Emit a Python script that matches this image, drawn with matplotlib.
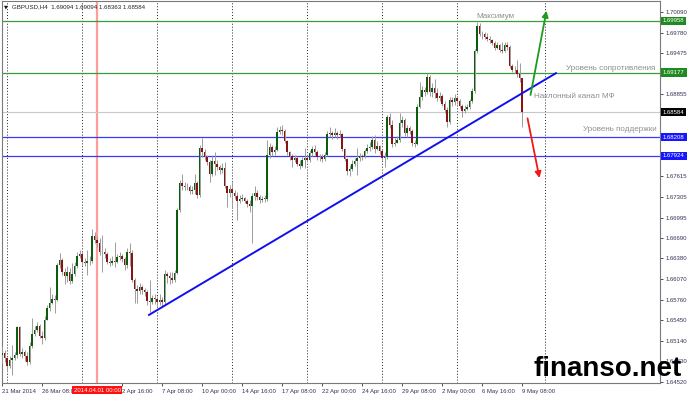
import matplotlib
matplotlib.use("Agg")
import matplotlib.pyplot as plt
import matplotlib.transforms as mtransforms
import numpy as np

plt.rcParams['font.family'] = ['Liberation Sans', 'DejaVu Sans']

# GBPUSD H4, bar 0 = 21 Mar 2014 16:00 ... bar 208 = 9 May 2014 08:00
open0 = 1.6492
close = [
    1.6496, 1.6488, 1.6476, 1.6485, 1.6488, 1.6493, 1.6535, 1.6494, 1.6497, 1.6491,
    1.6482, 1.6506, 1.6524, 1.6530, 1.6536, 1.6521, 1.6518, 1.6545, 1.6564, 1.6571,
    1.6577, 1.6576, 1.6628, 1.6636, 1.6618, 1.6612, 1.6618, 1.6604, 1.6615, 1.6627,
    1.6642, 1.6645, 1.6633, 1.6631, 1.6634, 1.6634, 1.6672, 1.6666, 1.6661, 1.6648,
    1.6648, 1.6645, 1.6633, 1.6631, 1.6634, 1.6633, 1.6640, 1.6642, 1.6637, 1.6628,
    1.6648, 1.6646, 1.6606, 1.6592, 1.6589, 1.6595, 1.6591, 1.6588, 1.6574, 1.6573,
    1.6579, 1.6577, 1.6573, 1.6576, 1.6573, 1.6615, 1.6612, 1.6609, 1.6606, 1.6616,
    1.6711, 1.6752, 1.6747, 1.6746, 1.6746, 1.6740, 1.6741, 1.6752, 1.6734, 1.6804,
    1.6798, 1.6791, 1.6783, 1.6765, 1.6785, 1.6780, 1.6776, 1.6771, 1.6774, 1.6747,
    1.6737, 1.6743, 1.6737, 1.6732, 1.6725, 1.6728, 1.6729, 1.6725, 1.6720, 1.6717,
    1.6732, 1.6737, 1.6731, 1.6726, 1.6728, 1.6728, 1.6794, 1.6806, 1.6798, 1.6801,
    1.6828, 1.6831, 1.6830, 1.6815, 1.6798, 1.6792, 1.6786, 1.6789, 1.6780, 1.6777,
    1.6786, 1.6789, 1.6786, 1.6797, 1.6803, 1.6798, 1.6791, 1.6791, 1.6788, 1.6794,
    1.6825, 1.6827, 1.6824, 1.6827, 1.6824, 1.6825, 1.6803, 1.6788, 1.6770, 1.6773,
    1.6780, 1.6785, 1.6789, 1.6792, 1.6791, 1.6800, 1.6804, 1.6806, 1.6816, 1.6803,
    1.6807, 1.6800, 1.6789, 1.6791, 1.6851, 1.6839, 1.6810, 1.6812, 1.6816, 1.6842,
    1.6847, 1.6827, 1.6834, 1.6830, 1.6812, 1.6810, 1.6866, 1.6881, 1.6892, 1.6889,
    1.6911, 1.6889, 1.6895, 1.6887, 1.6880, 1.6883, 1.6871, 1.6862, 1.6844, 1.6877,
    1.6874, 1.6880, 1.6875, 1.6868, 1.6860, 1.6863, 1.6866, 1.6875, 1.6890, 1.6950,
    1.6988, 1.6976, 1.6976, 1.6971, 1.6969, 1.6967, 1.6962, 1.6955, 1.6959, 1.6952,
    1.6950, 1.6959, 1.6956, 1.6928, 1.6922, 1.6922, 1.6916, 1.69094, 1.68584,
]
high = [
    1.6506, 1.6500, 1.6488, 1.6491, 1.6508, 1.6497, 1.6536, 1.6536, 1.6503, 1.6500,
    1.6497, 1.6512, 1.6548, 1.6536, 1.6542, 1.6539, 1.6529, 1.6551, 1.6568, 1.6595,
    1.6585, 1.6583, 1.6631, 1.6646, 1.6639, 1.6624, 1.6627, 1.6624, 1.6631, 1.6633,
    1.6648, 1.6651, 1.6648, 1.6639, 1.6651, 1.6642, 1.6682, 1.6678, 1.6672, 1.6669,
    1.6673, 1.6654, 1.6648, 1.6639, 1.6642, 1.6663, 1.6645, 1.6648, 1.6645, 1.6640,
    1.6654, 1.6661, 1.6651, 1.6609, 1.6598, 1.6601, 1.6598, 1.6594, 1.6591, 1.6606,
    1.6583, 1.6585, 1.6582, 1.6585, 1.6580, 1.6621, 1.6618, 1.6618, 1.6618, 1.6621,
    1.6714, 1.6756, 1.6765, 1.6753, 1.6752, 1.6749, 1.6747, 1.6765, 1.6755, 1.6809,
    1.6819, 1.6803, 1.6794, 1.6786, 1.6792, 1.6798, 1.6786, 1.6779, 1.6782, 1.6783,
    1.6747, 1.6749, 1.6753, 1.6741, 1.6738, 1.6734, 1.6735, 1.6731, 1.6728, 1.6726,
    1.6737, 1.6747, 1.6741, 1.6734, 1.6732, 1.6734, 1.6816, 1.6812, 1.6809, 1.6807,
    1.6836, 1.6837, 1.6839, 1.6833, 1.6816, 1.6800, 1.6795, 1.6794, 1.6792, 1.6786,
    1.6791, 1.6804, 1.6794, 1.6801, 1.6807, 1.6809, 1.6801, 1.6795, 1.6795, 1.6798,
    1.6830, 1.6836, 1.6830, 1.6834, 1.6830, 1.6831, 1.6827, 1.6804, 1.6789, 1.6779,
    1.6786, 1.6789, 1.6804, 1.6797, 1.6795, 1.6803, 1.6810, 1.6813, 1.6822, 1.6824,
    1.6815, 1.6809, 1.6803, 1.6798, 1.6854, 1.6857, 1.6847, 1.6819, 1.6822, 1.6857,
    1.6853, 1.6850, 1.6839, 1.6837, 1.6833, 1.6816, 1.6871, 1.6904, 1.6898, 1.6896,
    1.6917, 1.6914, 1.6902, 1.6908, 1.6895, 1.6889, 1.6886, 1.6875, 1.6866, 1.6881,
    1.6881, 1.6886, 1.6883, 1.6878, 1.6871, 1.6869, 1.6871, 1.6878, 1.6895, 1.6953,
    1.6994, 1.6992, 1.6980, 1.6979, 1.6977, 1.6973, 1.6969, 1.6965, 1.6964, 1.6961,
    1.6964, 1.6964, 1.6964, 1.6959, 1.6931, 1.6928, 1.6937, 1.6932, 1.69094,
]
low = [
    1.6481, 1.6482, 1.6467, 1.6473, 1.6463, 1.6485, 1.6488, 1.6491, 1.6488, 1.6484,
    1.6478, 1.6479, 1.6503, 1.6521, 1.6527, 1.6518, 1.6509, 1.6515, 1.6545, 1.6559,
    1.6569, 1.6556, 1.6574, 1.6624, 1.6613, 1.6600, 1.6603, 1.6600, 1.6601, 1.6612,
    1.6624, 1.6639, 1.6628, 1.6627, 1.6613, 1.6628, 1.6631, 1.6661, 1.6655, 1.6643,
    1.6618, 1.6639, 1.6630, 1.6627, 1.6628, 1.6625, 1.6631, 1.6636, 1.6633, 1.6621,
    1.6624, 1.6627, 1.6603, 1.6571, 1.6571, 1.6585, 1.6585, 1.6582, 1.6568, 1.6558,
    1.6569, 1.6569, 1.6567, 1.6568, 1.6565, 1.6569, 1.6601, 1.6600, 1.6601, 1.6603,
    1.6615, 1.6708, 1.6741, 1.6741, 1.6741, 1.6735, 1.6735, 1.6735, 1.6729, 1.6731,
    1.6791, 1.6786, 1.6779, 1.6753, 1.6762, 1.6764, 1.6771, 1.6765, 1.6767, 1.6744,
    1.6716, 1.6731, 1.6716, 1.6728, 1.6696, 1.6722, 1.6725, 1.6722, 1.6716, 1.6708,
    1.6661, 1.6726, 1.6726, 1.6722, 1.6723, 1.6723, 1.6725, 1.6789, 1.6792, 1.6794,
    1.6800, 1.6825, 1.6824, 1.6812, 1.6794, 1.6786, 1.6776, 1.6783, 1.6777, 1.6773,
    1.6776, 1.6774, 1.6783, 1.6783, 1.6792, 1.6794, 1.6786, 1.6785, 1.6783, 1.6785,
    1.6792, 1.6821, 1.6818, 1.6821, 1.6818, 1.6821, 1.6800, 1.6785, 1.6764, 1.6762,
    1.6770, 1.6777, 1.6764, 1.6785, 1.6786, 1.6789, 1.6797, 1.6800, 1.6803, 1.6797,
    1.6801, 1.6795, 1.6786, 1.6776, 1.6788, 1.6834, 1.6806, 1.6807, 1.6812, 1.6813,
    1.6836, 1.6822, 1.6821, 1.6825, 1.6807, 1.6806, 1.6809, 1.6865, 1.6877, 1.6883,
    1.6886, 1.6883, 1.6881, 1.6880, 1.6875, 1.6875, 1.6868, 1.6857, 1.6836, 1.6841,
    1.6868, 1.6869, 1.6871, 1.6865, 1.6851, 1.6857, 1.6862, 1.6863, 1.6872, 1.6887,
    1.6947, 1.6973, 1.6969, 1.6968, 1.6965, 1.6962, 1.6959, 1.6952, 1.6953, 1.6949,
    1.6947, 1.6949, 1.6952, 1.6925, 1.6919, 1.6917, 1.6911, 1.6904, 1.68363,
]

# horizontal levels
resist_levels = [1.69958, 1.69177]
support_levels = [1.68208, 1.67924]
bid_price = 1.68584

# right axis ticks
price_ticks = [1.70090, 1.69780, 1.69475, 1.68855, 1.67615, 1.67305, 1.66995, 1.66690,
               1.66380, 1.66070, 1.65760, 1.65450, 1.65140, 1.64830, 1.64520]

# time axis
time_tick_idx = [0, 16, 48, 64, 80, 96, 112, 128, 144, 160, 176, 192, 208]
time_tick_lbl = ['21 Mar 2014', '26 Mar 08:00', '2 Apr 16:00', '7 Apr 08:00', '10 Apr 00:00',
                 '14 Apr 16:00', '17 Apr 08:00', '22 Apr 00:00', '24 Apr 16:00', '29 Apr 08:00',
                 '2 May 00:00', '6 May 16:00', '9 May 08:00']
separator_idx = [2, 32, 62, 92, 122, 152, 182, 217]
cursor_idx = 38
cursor_lbl = '2014.04.01 00:00'

# drawings (bar index, price)
trend_x = [58.8, 221.6]
trend_y = [1.6553, 1.6917]
up_arrow = [(211.2, 1.6880), (218.0, 1.7015)]
down_arrow = [(210.0, 1.6853), (215.2, 1.6755)]

opens = [open0] + close[:-1]
o = np.array(opens)
c = np.array(close)
h = np.array(high)
lo = np.array(low)
x = np.arange(len(c))

fig = plt.figure(figsize=(6.88, 3.96), dpi=100)
ax = fig.add_axes([2 / 688, 13 / 396, 658 / 688, 382 / 396])
ax.set_xlim(0, 263.2)
ax.set_ylim(1.64505, 1.70256)

for s in ax.spines.values():
    s.set_color('#7a7a7a')
    s.set_linewidth(0.8)

# period separators
for i in separator_idx:
    ax.axvline(i, color='#222222', lw=0.7, ls=(0, (1, 2)), zorder=1)
ax.axvline(cursor_idx, color='#ff9d9d', lw=1.6, zorder=1)

# levels
for lv in resist_levels:
    ax.axhline(lv, color='#3d9a3d', lw=0.9, zorder=2)
for lv in support_levels:
    ax.axhline(lv, color='#3a3aff', lw=0.9, zorder=2)
ax.axhline(bid_price, color='#c8c8c8', lw=0.8, zorder=1.5)

# candles
up = c >= o
ax.vlines(x, lo, h, color='#9c9c9c', lw=0.7, zorder=3)
body_bot = np.minimum(o, c)
body_h = np.maximum(np.abs(c - o), 0.00003)
ax.bar(x[up], body_h[up], bottom=body_bot[up], width=0.75, color='#0b5c0b', lw=0, zorder=4)
ax.bar(x[~up], body_h[~up], bottom=body_bot[~up], width=0.75, color='#8a1212', lw=0, zorder=4)

# trend line and arrows
ax.plot(trend_x, trend_y, color='#1010ee', lw=1.4, zorder=5)
ax.annotate('', xy=up_arrow[1], xytext=up_arrow[0],
            arrowprops=dict(arrowstyle='-|>', color='#1e9a1e', lw=1.3, mutation_scale=9), zorder=6)
ax.annotate('', xy=down_arrow[1], xytext=down_arrow[0],
            arrowprops=dict(arrowstyle='-|>', color='#f01818', lw=1.3, mutation_scale=9), zorder=6)

txt_col = '#8e8e8e'
ax.text(197.2, 1.7002, 'Максимум', color=txt_col, fontsize=5.8, ha='center', va='center')
ax.text(261.4, 1.69247, 'Уровень сопротивления', color=txt_col, fontsize=5.8, ha='right', va='center')
ax.text(212.8, 1.68811, 'Наклонный канал МФ', color=txt_col, fontsize=5.8, ha='left', va='center')
ax.text(262.0, 1.68314, 'Уровень поддержки', color=txt_col, fontsize=5.8, ha='right', va='center')

# price axis
ax.yaxis.tick_right()
ax.set_yticks(price_ticks)
ax.set_yticklabels(['%.5f' % v for v in price_ticks])
ax.tick_params(axis='y', labelsize=4.3, length=2.5, width=0.6, pad=1.2,
               colors='#333333', labelcolor='#333355')

ytr = mtransforms.blended_transform_factory(ax.transAxes, ax.transData)
boxes = [(resist_levels[0], '#1f8a1f'), (resist_levels[1], '#1f8a1f'),
         (bid_price, '#000000'), (support_levels[0], '#1515ff'), (support_levels[1], '#1515ff')]
for val, col in boxes:
    ax.text(1.0 + 3 / 658, val, '%.5f' % val, transform=ytr, ha='left', va='center',
            fontsize=4.3, color='white', zorder=10,
            bbox=dict(boxstyle='square,pad=0.3', fc=col, ec='none'))

# time axis
ax.set_xticks(time_tick_idx)
ax.set_xticklabels(time_tick_lbl)
ax.tick_params(axis='x', labelsize=4.3, length=2.5, width=0.6, pad=1.5,
               colors='#333333', labelcolor='#333355')
for lbl in ax.get_xticklabels():
    lbl.set_horizontalalignment('left')

xtr = mtransforms.blended_transform_factory(ax.transData, ax.transAxes)
ax.text(cursor_idx, -0.012, cursor_lbl, transform=xtr, ha='center', va='top',
        fontsize=4.3, color='white', zorder=10,
        bbox=dict(boxstyle='square,pad=0.3', fc='#ff1010', ec='none'))

# header
fig.text(4 / 688, 1 - 7 / 396, '\u25bc', fontsize=3.5, family='DejaVu Sans', va='center', color='#111111')
fig.text(12 / 688, 1 - 7 / 396, 'GBPUSD,H4  1.69094 1.69094 1.68363 1.68584',
         fontsize=4.4, va='center', color='#222222')

# watermark (drawn over the price scale, as in the source screenshot)
fig.text(533 / 688, 1 - 376 / 396, 'finanso.net', fontsize=20, fontweight='bold',
         color='black', ha='left', va='baseline', zorder=20)

fig.savefig('out.png', dpi=100)
